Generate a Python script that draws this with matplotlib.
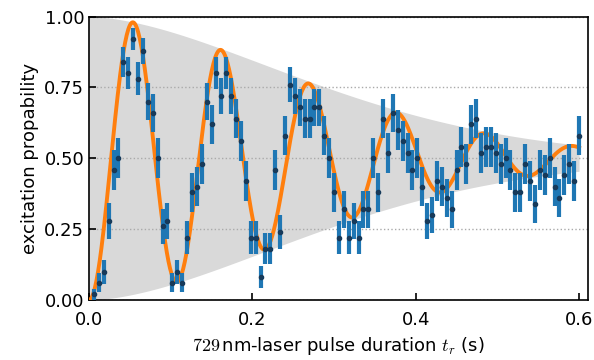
import numpy as np
import matplotlib
matplotlib.use('Agg')
import matplotlib.pyplot as plt

plt.rcParams['mathtext.fontset'] = 'cm'

# Messzeiten (s) und gemessene Anregungswahrscheinlichkeit, 50 Wiederholungen pro Punkt
n_shots = 50
t_step = 0.006
n_points = 100
p_exc = [0.02, 0.06, 0.10, 0.28, 0.46, 0.50, 0.84, 0.80, 0.92, 0.78, 0.88, 0.70, 0.66, 0.50, 0.26, 0.28,
         0.06, 0.10, 0.06, 0.22, 0.38, 0.40, 0.48, 0.70, 0.62, 0.80, 0.72, 0.80, 0.72, 0.64, 0.56, 0.42, 0.22, 0.22,
         0.08, 0.18, 0.18, 0.46, 0.24, 0.58, 0.76, 0.72, 0.68, 0.64, 0.64, 0.68, 0.68, 0.58, 0.50, 0.38, 0.22,
         0.32, 0.22, 0.28, 0.22, 0.32, 0.32, 0.50, 0.38, 0.64, 0.52, 0.66, 0.60, 0.56, 0.52, 0.46, 0.50, 0.40, 0.28,
         0.30, 0.42, 0.40, 0.36, 0.32, 0.46, 0.54, 0.48, 0.62, 0.64, 0.52, 0.54, 0.54, 0.52, 0.48, 0.50, 0.46,
         0.38, 0.38, 0.48, 0.42, 0.34, 0.46, 0.44, 0.50, 0.40, 0.36, 0.44, 0.48, 0.42, 0.58]

# Fitparameter (gedaempfte Rabi-Oszillation)
rabi_period = 0.1078
fit_tau = 0.35
env_tau = 0.36
decay_exp = 1.7

t = t_step * np.arange(1, n_points + 1)
p = np.array(p_exc)
err = np.sqrt(p * (1 - p) / n_shots)

t_fit = np.linspace(0, 0.6, 600)
fit = 0.5 - 0.5 * np.exp(-(t_fit / fit_tau) ** decay_exp) * np.cos(2 * np.pi * t_fit / rabi_period)
env = 0.5 * np.exp(-(t_fit / env_tau) ** decay_exp)

fig = plt.figure(figsize=(5.94, 3.6), dpi=100)
ax = fig.add_axes([0.150, 0.167, 0.840, 0.787])

ax.fill_between(t_fit, 0.5 - env, 0.5 + env, color='#d9d9d9', lw=0, zorder=1)
ax.grid(axis='y', ls=':', color='#aaaaaa', lw=1, zorder=2)
ax.plot(t_fit, fit, color='#ff7f0e', lw=2.8, zorder=3)
ax.errorbar(t, p, yerr=err, fmt='o', ms=3, color='#173a5a', ecolor='#1f77b4',
            elinewidth=3, capsize=0, zorder=4)

ax.set_xlim(0, 0.611)
ax.set_ylim(0, 1)
ax.set_xticks([0.0, 0.2, 0.4, 0.6])
ax.set_yticks([0, 0.25, 0.5, 0.75, 1.0])
ax.set_yticklabels(['0.00', '0.25', '0.50', '0.75', '1.00'])
ax.tick_params(direction='in', length=5, width=1.2, labelsize=13)
ax.tick_params(axis='x', pad=8)
for s in ax.spines.values():
    s.set_linewidth(1.2)

ax.set_xlabel(r'$729\,$nm-laser pulse duration $t_r$ (s)', fontsize=13)
ax.set_ylabel('excitation propability', fontsize=13)

fig.savefig('out.png', dpi=100)
